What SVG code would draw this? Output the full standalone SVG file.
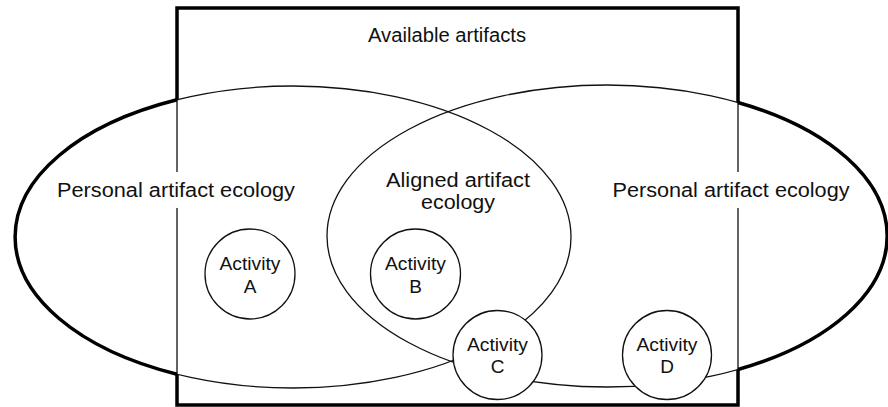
<svg xmlns="http://www.w3.org/2000/svg" width="888" height="407" viewBox="0 0 888 407">
  <style>
    .thin { fill: none; stroke: #111; stroke-width: 1.3; }
    .thick { fill: none; stroke: #000; stroke-width: 3.5; stroke-linejoin: miter; }
    .act { fill: #fff; stroke: #111; stroke-width: 1.3; }
    .lbl { font-family: "Liberation Sans", Arial, Helvetica, sans-serif; font-size: 20px; fill: #111; text-anchor: middle; }
    .albl { font-family: "Liberation Sans", Arial, Helvetica, sans-serif; font-size: 19px; fill: #111; text-anchor: middle; }
    .bg { fill: #fff; stroke: none; }
  </style>
  <rect width="888" height="407" fill="#fff"/>

  <g id="available-artifacts">
    <rect class="thin" x="177" y="8" width="561" height="397"/>
    <path class="thick" d="M177,99.8 L177,8 L738,8 L738,102.5 M177,374.2 L177,405 L738,405 L738,369.5"/>
    <text class="lbl" x="447" y="42" textLength="158" lengthAdjust="spacingAndGlyphs">Available artifacts</text>
  </g>

  <g id="personal-ecology-left">
    <ellipse class="thin" cx="293" cy="237" rx="278" ry="151"/>
    <path class="thick" d="M177,99.8 A278,151 0 0 0 177,374.2"/>
    <rect class="bg" x="55" y="172" width="244" height="36"/>
    <text class="lbl" x="176" y="197" textLength="238" lengthAdjust="spacingAndGlyphs">Personal artifact ecology</text>
  </g>

  <g id="personal-ecology-right">
    <ellipse class="thin" cx="607" cy="236" rx="280" ry="151"/>
    <path class="thick" d="M738,102.5 A280,151 0 0 1 738,369.5"/>
    <rect class="bg" x="610" y="172" width="243" height="36"/>
    <text class="lbl" x="731" y="197" textLength="237" lengthAdjust="spacingAndGlyphs">Personal artifact ecology</text>
  </g>

  <g id="aligned-ecology">
    <text class="lbl" x="458" y="187" textLength="144" lengthAdjust="spacingAndGlyphs">Aligned artifact</text>
    <text class="lbl" x="458" y="209" textLength="74" lengthAdjust="spacingAndGlyphs">ecology</text>
  </g>

  <g id="connectors"></g>

  <g id="activity-a">
    <circle class="act" cx="250" cy="274" r="45"/>
    <text class="albl" x="250" y="270" textLength="61" lengthAdjust="spacingAndGlyphs">Activity</text>
    <text class="albl" x="250" y="293">A</text>
  </g>
  <g id="activity-b">
    <circle class="act" cx="415.5" cy="274" r="45"/>
    <text class="albl" x="415.5" y="270" textLength="61" lengthAdjust="spacingAndGlyphs">Activity</text>
    <text class="albl" x="415.5" y="293">B</text>
  </g>
  <g id="activity-c">
    <circle class="act" cx="497.5" cy="355" r="44.5"/>
    <text class="albl" x="497.5" y="351" textLength="61" lengthAdjust="spacingAndGlyphs">Activity</text>
    <text class="albl" x="497.5" y="373">C</text>
  </g>
  <g id="activity-d">
    <circle class="act" cx="667" cy="355" r="44.5"/>
    <text class="albl" x="667" y="351" textLength="61" lengthAdjust="spacingAndGlyphs">Activity</text>
    <text class="albl" x="667" y="373">D</text>
  </g>
</svg>
